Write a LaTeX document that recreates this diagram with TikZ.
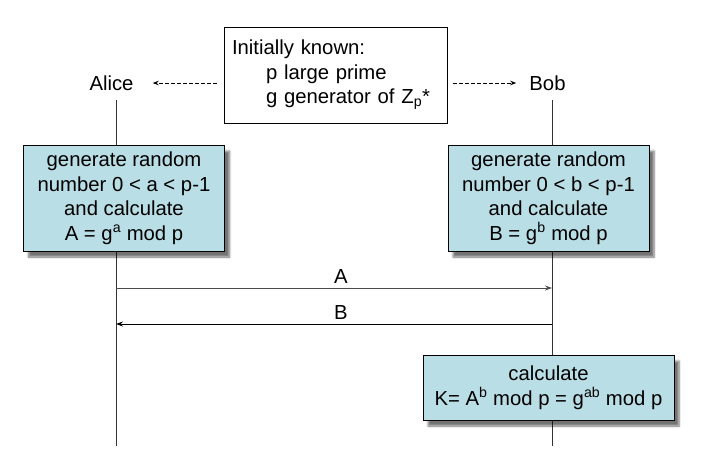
\documentclass[tikz,border=0pt]{standalone}
\usepackage{fontspec}
\setmainfont{Liberation Sans}
\usetikzlibrary{arrows.meta}
\usetikzlibrary{shadows.blur}
\usetikzlibrary{backgrounds}
\definecolor{boxblue}{RGB}{185,222,229}
\tikzset{
  actor/.style={inner sep=0pt},
  lifeline/.style={line width=0.9pt, black!80},
  stepbox/.style={draw, line width=0.9pt, fill=boxblue, align=center, inner sep=0pt,
    minimum width=201pt, blur shadow={shadow xshift=5pt, shadow yshift=-6pt, shadow blur steps=6, shadow opacity=55}},
  msg/.style={line width=0.9pt, -{Stealth[length=7pt, width=5pt]}},
  hint/.style={line width=0.8pt, dashed, dash pattern=on 3.5pt off 2.5pt, -{Stealth[length=6pt, width=4.5pt]}}
}

\begin{document}
\begin{tikzpicture}[x=1pt, y=-1pt, font=\fontsize{20.3}{24.5}\selectfont]
    \useasboundingbox (0,0) rectangle (710,466);
    % lifelines
    \coordinate (aliceTop) at (116,100);
    \coordinate (aliceEnd) at (116,446);
    \coordinate (bobTop) at (552,100);
    \coordinate (bobEnd) at (552,446);
    \node [actor] (alice) at (111.5,83) {Alice};
    \node [actor] (bob) at (547.5,83) {Bob};
    \node [draw, line width=0.9pt, minimum width=223pt, minimum height=96pt, text width=207pt, align=left, inner sep=0pt]
      (known) at (335.5,75) {Initially known:\\
      \hspace*{34pt}p large prime\\
      \hspace*{34pt}g generator of Z\textsubscript{p}*};
    \draw [hint, shorten <=7pt, shorten >=19pt] (known.west |- alice.east) -- (alice.east);
    \draw [hint, shorten <=6pt, shorten >=13pt] (known.east |- bob.west) -- (bob.west);
    % computations
    \node [stepbox, minimum height=106pt] (genA) at (124,198) {generate random\\number 0 < a < p-1\\and calculate\\A = g\textsuperscript{a} mod p};
    \node [stepbox, minimum height=106pt] (genB) at (548.5,198) {generate random\\number 0 < b < p-1\\and calculate\\B = g\textsuperscript{b} mod p};
    \node [stepbox, minimum width=251pt, minimum height=65pt] (calcK) at (548.5,387.5) {calculate\\K= A\textsuperscript{b} mod p = g\textsuperscript{ab} mod p};
    \begin{scope}[on background layer]
      \draw [lifeline] (aliceTop) -- (aliceEnd);
      \draw [lifeline] (bobTop) -- (bobEnd);
    \end{scope}
    % messages
    \coordinate (sendA) at (aliceEnd |- 0,288);
    \coordinate (getA) at (bobEnd |- 0,288);
    \coordinate (sendB) at (bobEnd |- 0,324);
    \coordinate (getB) at (aliceEnd |- 0,324);
    \draw [msg, black!70] (sendA) -- (getA) node [midway, above=1pt, xshift=7pt, black] {A};
    \draw [msg] (sendB) -- (getB) node [midway, above=1pt, xshift=7pt] {B};
  \end{tikzpicture}
\end{document}
